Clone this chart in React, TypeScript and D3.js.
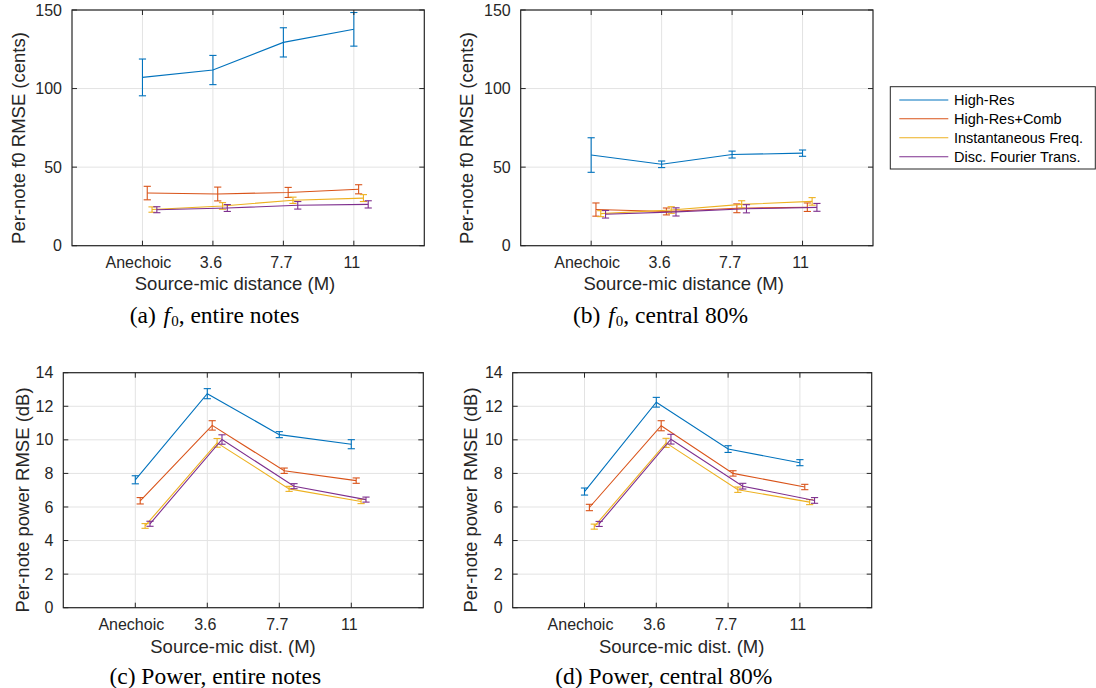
import React from "react";
import * as d3 from "d3";

// ---------- DATA ----------
const categories = ["Anechoic", "3.6", "7.7", "11"];
const seriesNames = ["High-Res", "High-Res+Comb", "Instantaneous Freq.", "Disc. Fourier Trans."];
const seriesColors = ["#0072BD", "#D95319", "#EDB120", "#7E2F8E"];

const f0TicksY = [0, 50, 100, 150];
const powerTicksY = [0, 2, 4, 6, 8, 10, 12, 14];

// (a) f0, entire notes
const aHighRes = [107.1, 111.8, 129.4, 137.7];
const aHighResErr = [11.7, 9.3, 9.3, 10.7];
const aComb = [33.5, 32.9, 33.9, 35.9];
const aCombErr = [4.3, 4.4, 3.2, 2.9];
const aIF = [23.0, 25.3, 28.9, 30.3];
const aIFErr = [1.7, 2.1, 2.0, 2.2];
const aDFT = [22.9, 24.0, 25.7, 26.3];
const aDFTErr = [1.9, 2.2, 2.4, 2.3];

// (b) f0, central 80%
const bHighRes = [57.7, 51.8, 58.0, 58.9];
const bHighResErr = [11.0, 2.1, 2.2, 2.0];
const bComb = [23.0, 21.8, 23.8, 24.5];
const bCombErr = [4.2, 2.2, 2.8, 2.7];
const bIF = [20.4, 22.7, 26.3, 28.2];
const bIFErr = [1.9, 2.1, 2.3, 2.4];
const bDFT = [20.0, 21.5, 23.5, 24.4];
const bDFTErr = [2.4, 2.6, 2.6, 2.5];

// (c) Power, entire notes
const cHighRes = [7.62, 12.75, 10.31, 9.74];
const cHighResErr = [0.24, 0.3, 0.18, 0.27];
const cComb = [6.37, 10.86, 8.16, 7.57];
const cCombErr = [0.19, 0.28, 0.16, 0.16];
const cIF = [4.87, 9.82, 7.08, 6.33];
const cIFErr = [0.14, 0.26, 0.15, 0.13];
const cDFT = [5.0, 10.02, 7.24, 6.44];
const cDFTErr = [0.15, 0.28, 0.15, 0.15];

// (d) Power, central 80%
const dHighRes = [6.92, 12.24, 9.45, 8.64];
const dHighResErr = [0.21, 0.29, 0.2, 0.18];
const dComb = [5.97, 10.84, 8.0, 7.19];
const dCombErr = [0.19, 0.3, 0.16, 0.16];
const dIF = [4.83, 9.82, 7.03, 6.29];
const dIFErr = [0.15, 0.27, 0.16, 0.15];
const dDFT = [4.99, 10.04, 7.24, 6.39];
const dDFTErr = [0.15, 0.29, 0.17, 0.17];

// ---------- LAYOUT ----------
type Panel = {
  left: number; right: number; top: number; bottom: number;
  yTicks: number[]; yMax: number;
  yLabel: string; xLabel: string;
  means: number[][]; errs: number[][];
  yLabelX: number; yLabelY: number;
  xLabelX: number; xLabelY: number; xTickY: number;
  caption: React.ReactNode; capX: number; capY: number;
};

const f0Label = "Per-note f0 RMSE (cents)";
const pwLabel = "Per-note power RMSE (dB)";

const caption = (letter: string, kind: "f0" | "pw", rest: string) => (
  <>
    <tspan>{`(${letter}) `}</tspan>
    {kind === "f0" ? (
      <>
        <tspan fontStyle="italic" dx={2}>f</tspan>
        <tspan fontSize={15} dx={1} dy={3}>0</tspan>
        <tspan dy={-3}>{`, ${rest}`}</tspan>
      </>
    ) : (
      <tspan>{`Power, ${rest}`}</tspan>
    )}
  </>
);

const panels: Panel[] = [
  {
    left: 72, right: 424.3, top: 10, bottom: 245.7, yTicks: f0TicksY, yMax: 150,
    yLabel: f0Label, xLabel: "Source-mic distance (M)",
    means: [aHighRes, aComb, aIF, aDFT], errs: [aHighResErr, aCombErr, aIFErr, aDFTErr],
    yLabelX: 25, yLabelY: 138, xLabelX: 235, xLabelY: 290, xTickY: 268,
    caption: caption("a", "f0", "entire notes"), capX: 214.5, capY: 323,
  },
  {
    left: 520.7, right: 873, top: 10, bottom: 245.7, yTicks: f0TicksY, yMax: 150,
    yLabel: f0Label, xLabel: "Source-mic distance (M)",
    means: [bHighRes, bComb, bIF, bDFT], errs: [bHighResErr, bCombErr, bIFErr, bDFTErr],
    yLabelX: 473, yLabelY: 138, xLabelX: 683.7, xLabelY: 290, xTickY: 268,
    caption: caption("b", "f0", "central 80%"), capX: 660.5, capY: 323,
  },
  {
    left: 63.3, right: 423.3, top: 372.7, bottom: 607.7, yTicks: powerTicksY, yMax: 14,
    yLabel: pwLabel, xLabel: "Source-mic dist. (M)",
    means: [cHighRes, cComb, cIF, cDFT], errs: [cHighResErr, cCombErr, cIFErr, cDFTErr],
    yLabelX: 29, yLabelY: 500, xLabelX: 233, xLabelY: 653, xTickY: 630,
    caption: caption("c", "pw", "entire notes"), capX: 215.3, capY: 684,
  },
  {
    left: 512.7, right: 871.7, top: 372.7, bottom: 607.7, yTicks: powerTicksY, yMax: 14,
    yLabel: pwLabel, xLabel: "Source-mic dist. (M)",
    means: [dHighRes, dComb, dIF, dDFT], errs: [dHighResErr, dCombErr, dIFErr, dDFTErr],
    yLabelX: 477, yLabelY: 500, xLabelX: 681.7, xLabelY: 653, xTickY: 630,
    caption: caption("d", "pw", "central 80%"), capX: 663.8, capY: 684,
  },
];

const SANS = "'Liberation Sans', Arial, Helvetica, sans-serif";
const SERIF = "'Liberation Serif', 'Times New Roman', serif";
const AXIS = "#262626";
const GRID = "#e3e3e3";
const OFFSET = 0.068;
const CAP = 3.6;
const TICK = 5;

function PanelView({ p }: { p: Panel }) {
  const x = d3.scaleLinear().domain([0, 5]).range([p.left, p.right]);
  const y = d3.scaleLinear().domain([0, p.yMax]).range([p.bottom, p.top]);
  const xs = categories.map((_, i) => i + 1);
  const line = d3.line<[number, number]>().x((d) => x(d[0])).y((d) => y(d[1]));
  return (
    <g>
      {/* grid */}
      {xs.map((v) => (
        <line key={"gx" + v} x1={x(v)} x2={x(v)} y1={p.top} y2={p.bottom} stroke={GRID} strokeWidth={1} />
      ))}
      {p.yTicks.map((v) => (
        <line key={"gy" + v} x1={p.left} x2={p.right} y1={y(v)} y2={y(v)} stroke={GRID} strokeWidth={1} />
      ))}
      {/* series */}
      {p.means.map((m, si) => {
        const pts: [number, number][] = m.map((v, i) => [xs[i] + si * OFFSET, v]);
        return (
          <g key={"s" + si} stroke={seriesColors[si]} fill="none" strokeWidth={1.1}>
            <path d={line(pts) || ""} />
            {pts.map(([px, pv], i) => {
              const e = p.errs[si][i];
              const cx = x(px);
              const yt = y(pv + e);
              const yb = y(pv - e);
              return (
                <g key={i}>
                  <line x1={cx} x2={cx} y1={yt} y2={yb} />
                  <line x1={cx - CAP} x2={cx + CAP} y1={yt} y2={yt} />
                  <line x1={cx - CAP} x2={cx + CAP} y1={yb} y2={yb} />
                </g>
              );
            })}
          </g>
        );
      })}
      {/* box */}
      <rect x={p.left} y={p.top} width={p.right - p.left} height={p.bottom - p.top} fill="none" stroke={AXIS} strokeWidth={1.2} />
      {/* ticks */}
      {xs.map((v) => (
        <g key={"tx" + v} stroke={AXIS} strokeWidth={1}>
          <line x1={x(v)} x2={x(v)} y1={p.bottom} y2={p.bottom - TICK} />
          <line x1={x(v)} x2={x(v)} y1={p.top} y2={p.top + TICK} />
        </g>
      ))}
      {p.yTicks.map((v) => (
        <g key={"ty" + v} stroke={AXIS} strokeWidth={1}>
          <line x1={p.left} x2={p.left + TICK} y1={y(v)} y2={y(v)} />
          <line x1={p.right} x2={p.right - TICK} y1={y(v)} y2={y(v)} />
        </g>
      ))}
      {/* tick labels */}
      {categories.map((c, i) => (
        <text key={"lx" + c} x={x(xs[i]) - (i === 0 ? 4 : 2)} y={p.xTickY} textAnchor="middle" fontFamily={SANS} fontSize={16} fill={AXIS}>
          {c}
        </text>
      ))}
      {p.yTicks.map((v) => (
        <text key={"ly" + v} x={p.left - 10} y={y(v)} dy="0.35em" textAnchor="end" fontFamily={SANS} fontSize={16} fill={AXIS}>
          {v}
        </text>
      ))}
      {/* axis labels */}
      <text x={p.xLabelX} y={p.xLabelY} textAnchor="middle" fontFamily={SANS} fontSize={18.5} fill={AXIS}>
        {p.xLabel}
      </text>
      <text transform={`translate(${p.yLabelX},${p.yLabelY}) rotate(-90)`} textAnchor="middle" fontFamily={SANS} fontSize={18.5} fill={AXIS}>
        {p.yLabel}
      </text>
      {/* caption */}
      <text x={p.capX} y={p.capY} textAnchor="middle" fontFamily={SERIF} fontSize={23.5} fill="#000">
        {p.caption}
      </text>
    </g>
  );
}

function Legend() {
  const rows = [100, 118.8, 137.7, 156.7];
  return (
    <g>
      <rect x={890.3} y={86.7} width={205} height={82.3} fill="#fff" stroke={AXIS} strokeWidth={1} />
      {seriesNames.map((n, i) => (
        <g key={n}>
          <line x1={899.3} x2={948.3} y1={rows[i]} y2={rows[i]} stroke={seriesColors[i]} strokeWidth={1.1} />
          <text x={954} y={rows[i] + 5} fontFamily={SANS} fontSize={14.5} fill="#000">
            {n}
          </text>
        </g>
      ))}
    </g>
  );
}

export default function App() {
  return (
    <svg width={1096} height={688} style={{ position: "absolute", left: 0, top: 0, background: "#fff" }}>
      <rect width={1096} height={688} fill="#fff" />
      {panels.map((p, i) => (
        <PanelView key={i} p={p} />
      ))}
      <Legend />
    </svg>
  );
}
